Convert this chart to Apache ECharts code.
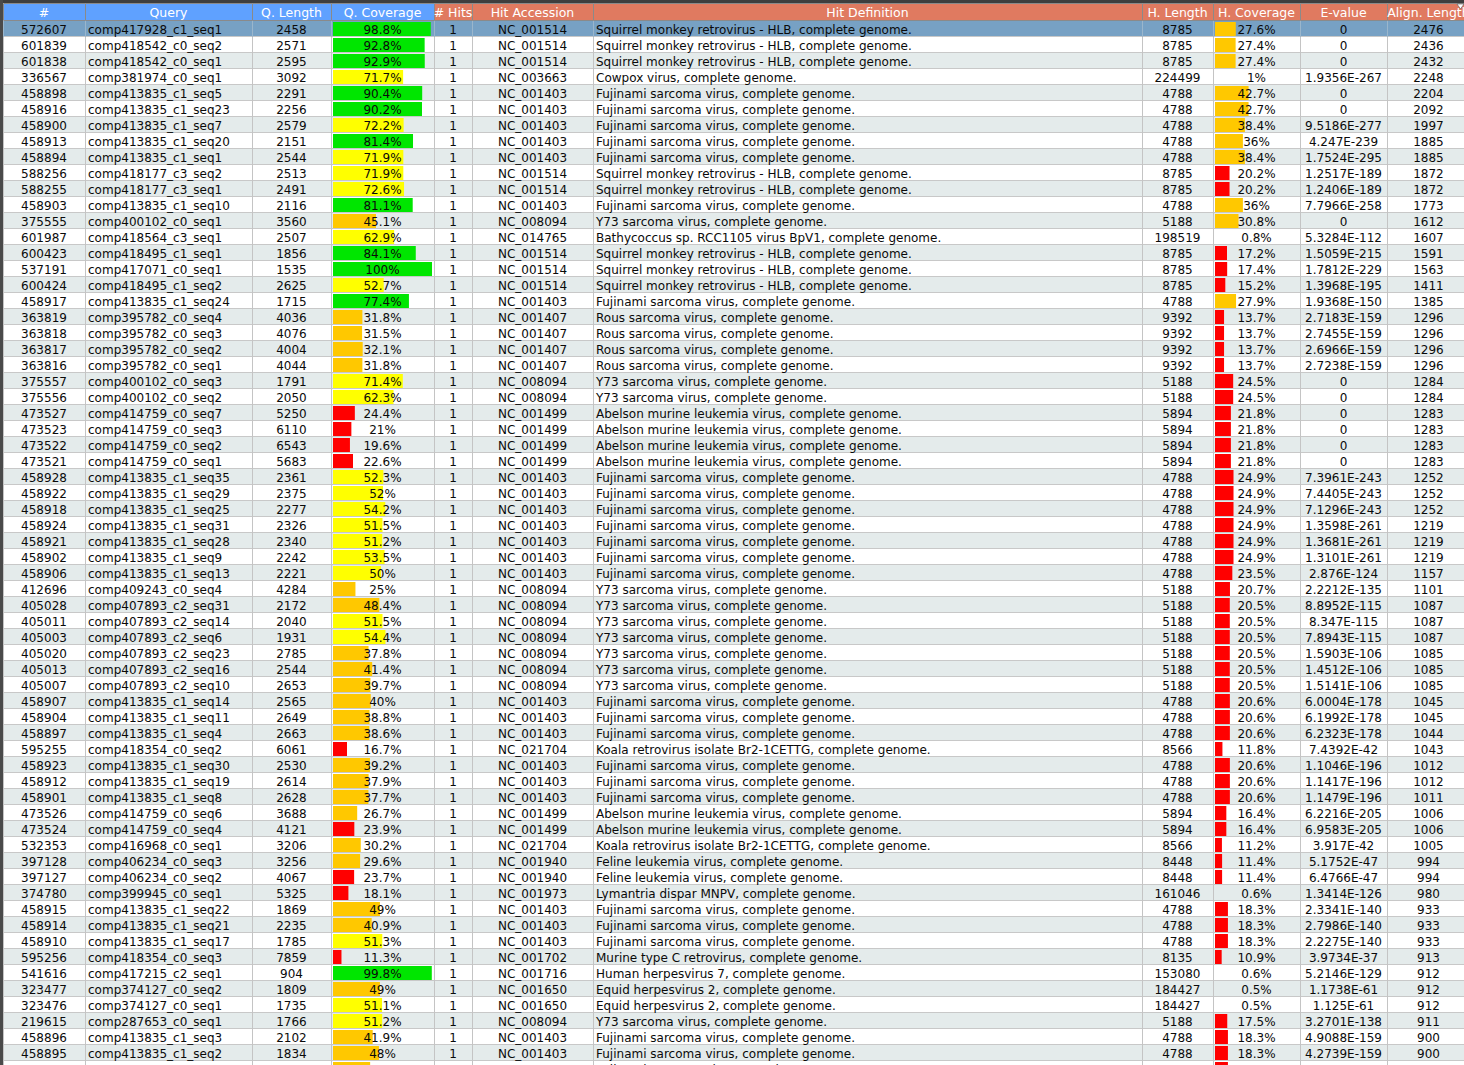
<!DOCTYPE html>
<html>
<head>
<meta charset="utf-8">
<script src="https://cdn.jsdelivr.net/npm/echarts@6/dist/echarts.min.js"></script>
<style>
html, body { margin: 0; padding: 0; background: #fff; overflow: hidden; }
#main { width: 1464px; height: 1080px; }
</style>
</head>
<body>
<div id="main"></div>
<script>
// table data, one array per column
var columns = ['#', 'Query', 'Q. Length', 'Q. Coverage', '# Hits', 'Hit Accession', 'Hit Definition', 'H. Length', 'H. Coverage', 'E-value', 'Align. Length'];

var rowIds = [572607,601839,601838,336567,458898,458916,458900,458913,458894,588256,588255,458903,375555,601987,600423,537191,600424,458917,363819,363818,363817,363816,375557,375556,473527,473523,473522,473521,458928,458922,458918,458924,458921,458902,458906,412696,405028,405011,405003,405020,405013,405007,458907,458904,458897,595255,458923,458912,458901,473526,473524,532353,397128,397127,374780,458915,458914,458910,595256,541616,323477,323476,219615,458896,458895,458899];

var queries = ['comp417928_c1_seq1','comp418542_c0_seq2','comp418542_c0_seq1','comp381974_c0_seq1','comp413835_c1_seq5','comp413835_c1_seq23','comp413835_c1_seq7','comp413835_c1_seq20','comp413835_c1_seq1','comp418177_c3_seq2','comp418177_c3_seq1','comp413835_c1_seq10','comp400102_c0_seq1','comp418564_c3_seq1','comp418495_c1_seq1','comp417071_c0_seq1','comp418495_c1_seq2','comp413835_c1_seq24','comp395782_c0_seq4','comp395782_c0_seq3','comp395782_c0_seq2','comp395782_c0_seq1','comp400102_c0_seq3','comp400102_c0_seq2','comp414759_c0_seq7','comp414759_c0_seq3','comp414759_c0_seq2','comp414759_c0_seq1','comp413835_c1_seq35','comp413835_c1_seq29','comp413835_c1_seq25','comp413835_c1_seq31','comp413835_c1_seq28','comp413835_c1_seq9','comp413835_c1_seq13','comp409243_c0_seq4','comp407893_c2_seq31','comp407893_c2_seq14','comp407893_c2_seq6','comp407893_c2_seq23','comp407893_c2_seq16','comp407893_c2_seq10','comp413835_c1_seq14','comp413835_c1_seq11','comp413835_c1_seq4','comp418354_c0_seq2','comp413835_c1_seq30','comp413835_c1_seq19','comp413835_c1_seq8','comp414759_c0_seq6','comp414759_c0_seq4','comp416968_c0_seq1','comp406234_c0_seq3','comp406234_c0_seq2','comp399945_c0_seq1','comp413835_c1_seq22','comp413835_c1_seq21','comp413835_c1_seq17','comp418354_c0_seq3','comp417215_c2_seq1','comp374127_c0_seq2','comp374127_c0_seq1','comp287653_c0_seq1','comp413835_c1_seq3','comp413835_c1_seq2','comp413835_c1_seq6'];

var qLengths = [2458,2571,2595,3092,2291,2256,2579,2151,2544,2513,2491,2116,3560,2507,1856,1535,2625,1715,4036,4076,4004,4044,1791,2050,5250,6110,6543,5683,2361,2375,2277,2326,2340,2242,2221,4284,2172,2040,1931,2785,2544,2653,2565,2649,2663,6061,2530,2614,2628,3688,4121,3206,3256,4067,5325,1869,2235,1785,7859,904,1809,1735,1766,2102,1834,2230];

var qCoverage = [98.8,92.8,92.9,71.7,90.4,90.2,72.2,81.4,71.9,71.9,72.6,81.1,45.1,62.9,84.1,100,52.7,77.4,31.8,31.5,32.1,31.8,71.4,62.3,24.4,21,19.6,22.6,52.3,52,54.2,51.5,51.2,53.5,50,25,48.4,51.5,54.4,37.8,41.4,39.7,40,38.8,38.6,16.7,39.2,37.9,37.7,26.7,23.9,30.2,29.6,23.7,18.1,49,40.9,51.3,11.3,99.8,49,51.1,51.2,41.9,48,39.4];

var hitCounts = [1,1,1,1,1,1,1,1,1,1,1,1,1,1,1,1,1,1,1,1,1,1,1,1,1,1,1,1,1,1,1,1,1,1,1,1,1,1,1,1,1,1,1,1,1,1,1,1,1,1,1,1,1,1,1,1,1,1,1,1,1,1,1,1,1,1];

var accessions = ['NC_001514','NC_001514','NC_001514','NC_003663',
  'NC_001403','NC_001403','NC_001403','NC_001403','NC_001403',
  'NC_001514','NC_001514','NC_001403','NC_008094','NC_014765',
  'NC_001514','NC_001514','NC_001514','NC_001403',
  'NC_001407','NC_001407','NC_001407','NC_001407',
  'NC_008094','NC_008094',
  'NC_001499','NC_001499','NC_001499','NC_001499',
  'NC_001403','NC_001403','NC_001403','NC_001403','NC_001403','NC_001403','NC_001403',
  'NC_008094','NC_008094','NC_008094','NC_008094','NC_008094','NC_008094','NC_008094',
  'NC_001403','NC_001403','NC_001403','NC_021704',
  'NC_001403','NC_001403','NC_001403',
  'NC_001499','NC_001499','NC_021704','NC_001940','NC_001940','NC_001973',
  'NC_001403','NC_001403','NC_001403',
  'NC_001702','NC_001716','NC_001650','NC_001650','NC_008094',
  'NC_001403','NC_001403','NC_001403'];

var hitNames = {
  NC_001514: 'Squirrel monkey retrovirus - HLB, complete genome.',
  NC_003663: 'Cowpox virus, complete genome.',
  NC_001403: 'Fujinami sarcoma virus, complete genome.',
  NC_008094: 'Y73 sarcoma virus, complete genome.',
  NC_014765: 'Bathycoccus sp. RCC1105 virus BpV1, complete genome.',
  NC_001407: 'Rous sarcoma virus, complete genome.',
  NC_001499: 'Abelson murine leukemia virus, complete genome.',
  NC_021704: 'Koala retrovirus isolate Br2-1CETTG, complete genome.',
  NC_001940: 'Feline leukemia virus, complete genome.',
  NC_001973: 'Lymantria dispar MNPV, complete genome.',
  NC_001702: 'Murine type C retrovirus, complete genome.',
  NC_001716: 'Human herpesvirus 7, complete genome.',
  NC_001650: 'Equid herpesvirus 2, complete genome.'
};

var hLengths = [8785,8785,8785,224499,4788,4788,4788,4788,4788,8785,8785,4788,5188,198519,8785,8785,8785,4788,9392,9392,9392,9392,5188,5188,5894,5894,5894,5894,4788,4788,4788,4788,4788,4788,4788,5188,5188,5188,5188,5188,5188,5188,4788,4788,4788,8566,4788,4788,4788,5894,5894,8566,8448,8448,161046,4788,4788,4788,8135,153080,184427,184427,5188,4788,4788,4788];

var hCoverage = [27.6,27.4,27.4,1,42.7,42.7,38.4,36,38.4,20.2,20.2,36,30.8,0.8,17.2,17.4,15.2,27.9,13.7,13.7,13.7,13.7,24.5,24.5,21.8,21.8,21.8,21.8,24.9,24.9,24.9,24.9,24.9,24.9,23.5,20.7,20.5,20.5,20.5,20.5,20.5,20.5,20.6,20.6,20.6,11.8,20.6,20.6,20.6,16.4,16.4,11.2,11.4,11.4,0.6,18.3,18.3,18.3,10.9,0.6,0.5,0.5,17.5,18.3,18.3,18.3];

var eValues = ['0','0','0','1.9356E-267','0','0','9.5186E-277','4.247E-239','1.7524E-295','1.2517E-189','1.2406E-189','7.7966E-258','0','5.3284E-112','1.5059E-215','1.7812E-229','1.3968E-195','1.9368E-150','2.7183E-159','2.7455E-159','2.6966E-159','2.7238E-159','0','0','0','0','0','0','7.3961E-243','7.4405E-243','7.1296E-243','1.3598E-261','1.3681E-261','1.3101E-261','2.876E-124','2.2212E-135','8.8952E-115','8.347E-115','7.8943E-115','1.5903E-106','1.4512E-106','1.5141E-106','6.0004E-178','6.1992E-178','6.2323E-178','7.4392E-42','1.1046E-196','1.1417E-196','1.1479E-196','6.2216E-205','6.9583E-205','3.917E-42','5.1752E-47','6.4766E-47','1.3414E-126','2.3341E-140','2.7986E-140','2.2275E-140','3.9734E-37','5.2146E-129','1.1738E-61','1.125E-61','3.2701E-138','4.9088E-159','4.2739E-159','5.0123E-159'];

var alignLengths = [2476,2436,2432,2248,2204,2092,1997,1885,1885,1872,1872,1773,1612,1607,1591,1563,1411,1385,1296,1296,1296,1296,1284,1284,1283,1283,1283,1283,1252,1252,1252,1219,1219,1219,1157,1101,1087,1087,1087,1085,1085,1085,1045,1045,1044,1043,1012,1012,1011,1006,1006,1005,994,994,980,933,933,933,913,912,912,912,911,900,900,899];

// layout
var W = 1464, H = 1080;
var HEAD_TOP = 3, HEAD_BOTTOM = 20, BODY_TOP = 21, ROW_H = 16;
var colEdges = [3, 85, 252, 331, 434, 472, 593, 1142, 1213, 1300, 1387, 1470];
var colAlign = ['center','left','center','center','center','center','left','center','center','center','center'];
var FONT = '12px "DejaVu Sans", sans-serif';

var rowCats = rowIds.map(function (d, i) { return String(i); });
var bodyH = rowIds.length * ROW_H;

function covColor(v) {
  if (v >= 75) return '#00e600';
  if (v >= 50) return '#ffff00';
  if (v >= 25) return '#ffc800';
  return '#ff0000';
}

function cellText(i, c) {
  switch (c) {
    case 0: return String(rowIds[i]);
    case 1: return queries[i];
    case 2: return String(qLengths[i]);
    case 3: return qCoverage[i] + '%';
    case 4: return String(hitCounts[i]);
    case 5: return accessions[i];
    case 6: return hitNames[accessions[i]];
    case 7: return String(hLengths[i]);
    case 8: return hCoverage[i] + '%';
    case 9: return eValues[i];
    case 10: return String(alignLengths[i]);
  }
}

// row backgrounds and grid lines
function renderRowBg(params, api) {
  var i = api.value(1);
  var p = api.coord([0, i]);
  var h = api.size([0, 1])[1];
  var top = p[1] - h / 2;
  var fill = i === 0 ? '#77a1c4' : (i % 2 === 0 ? '#e4ebeb' : '#ffffff');
  var line = i === 0 ? '#9ab6cc' : '#c4c4c4';
  var kids = [{
    type: 'rect',
    shape: { x: 0, y: top, width: W, height: h },
    style: { fill: fill }
  }, {
    type: 'line',
    shape: { x1: 0, y1: top + h - 0.5, x2: W, y2: top + h - 0.5 },
    style: { stroke: '#c8c8c8', lineWidth: 1 }
  }];
  colEdges.forEach(function (e) {
    var x = Math.round(api.coord([e, i])[0]) + 0.5;
    kids.push({
      type: 'line',
      shape: { x1: x, y1: top, x2: x, y2: top + h },
      style: { stroke: line, lineWidth: 1 }
    });
  });
  return { type: 'group', children: kids };
}

// cell texts
function renderRowText(params, api) {
  var i = api.value(1);
  var y = api.coord([0, i])[1];
  var kids = [];
  for (var c = 0; c < columns.length; c++) {
    var x0 = api.coord([colEdges[c], i])[0];
    var x1 = api.coord([colEdges[c + 1], i])[0];
    var x = colAlign[c] === 'left' ? x0 + 3 : (x0 + x1) / 2;
    kids.push({
      type: 'text',
      style: {
        text: cellText(i, c),
        x: x, y: y + 1,
        fill: '#0a0a0a',
        font: FONT,
        align: colAlign[c],
        verticalAlign: 'middle'
      }
    });
  }
  return { type: 'group', children: kids };
}

// header built from the column names
var graphics = [
  { type: 'rect', shape: { x: 0, y: 0, width: W, height: HEAD_TOP }, style: { fill: '#3e3e3e' }, z: 100 }
];
columns.forEach(function (name, c) {
  var x0 = colEdges[c], x1 = colEdges[c + 1];
  graphics.push({
    type: 'rect',
    shape: { x: x0 + 0.5, y: HEAD_TOP + 0.5, width: x1 - x0, height: HEAD_BOTTOM - HEAD_TOP },
    style: { fill: c < 4 ? '#5fa1ff' : '#e07a60', stroke: '#8a8a8a', lineWidth: 1 },
    z: 100
  });
  graphics.push({
    type: 'text',
    style: {
      text: name, x: (x0 + x1) / 2, y: (HEAD_TOP + HEAD_BOTTOM) / 2 + 1,
      fill: '#ffffff', font: '12.5px "DejaVu Sans", sans-serif', align: 'center', verticalAlign: 'middle'
    },
    z: 101
  });
});
graphics.push({ type: 'rect', shape: { x: 0, y: 0, width: 3, height: H }, style: { fill: '#4a4a4a' }, z: 102 });
graphics.push({
  type: 'polygon',
  shape: { points: [[1457, 4], [1464, 4], [1460.5, 9]] },
  style: { fill: '#ffffff', stroke: '#555555', lineWidth: 0.6 },
  z: 102
});

var rowData = rowIds.map(function (d, i) { return [0, i]; });

function gridAt(left, width) {
  return { left: left, width: width, top: BODY_TOP, height: bodyH, containLabel: false, outerBoundsMode: 'none' };
}
function catAxis(idx) {
  return { type: 'category', gridIndex: idx, data: rowCats, inverse: true, show: false };
}

var option = {
  animation: false,
  backgroundColor: '#ffffff',
  grid: [
    gridAt(0, W),
    gridAt(colEdges[3] + 2, 99),   // Q. Coverage bars
    gridAt(colEdges[8] + 2, 82)    // H. Coverage bars
  ],
  xAxis: [
    { type: 'value', gridIndex: 0, min: 0, max: W, show: false },
    { type: 'value', gridIndex: 1, min: 3, max: 100, show: false },
    { type: 'value', gridIndex: 2, min: 3, max: 100, show: false }
  ],
  yAxis: [catAxis(0), catAxis(1), catAxis(2)],
  graphic: { elements: graphics },
  series: [
    {
      type: 'custom', name: 'rows', xAxisIndex: 0, yAxisIndex: 0,
      renderItem: renderRowBg, data: rowData, encode: { x: 0, y: 1 }, z: 1, silent: true, clip: false
    },
    {
      type: 'bar', name: 'Q. Coverage', xAxisIndex: 1, yAxisIndex: 1, barWidth: 14, clip: true, z: 3,
      data: qCoverage.map(function (v) { return { value: v, itemStyle: { color: covColor(v) } }; })
    },
    {
      type: 'bar', name: 'H. Coverage', xAxisIndex: 2, yAxisIndex: 2, barWidth: 14, clip: true, z: 3,
      data: hCoverage.map(function (v) { return { value: v, itemStyle: { color: covColor(v) } }; })
    },
    {
      type: 'custom', name: 'cells', xAxisIndex: 0, yAxisIndex: 0,
      renderItem: renderRowText, data: rowData, encode: { x: 0, y: 1 }, z: 5, silent: true, clip: false
    }
  ]
};

var chart = echarts.init(document.getElementById('main'), null, { renderer: 'svg' });
chart.setOption(option);
</script>
</body>
</html>
